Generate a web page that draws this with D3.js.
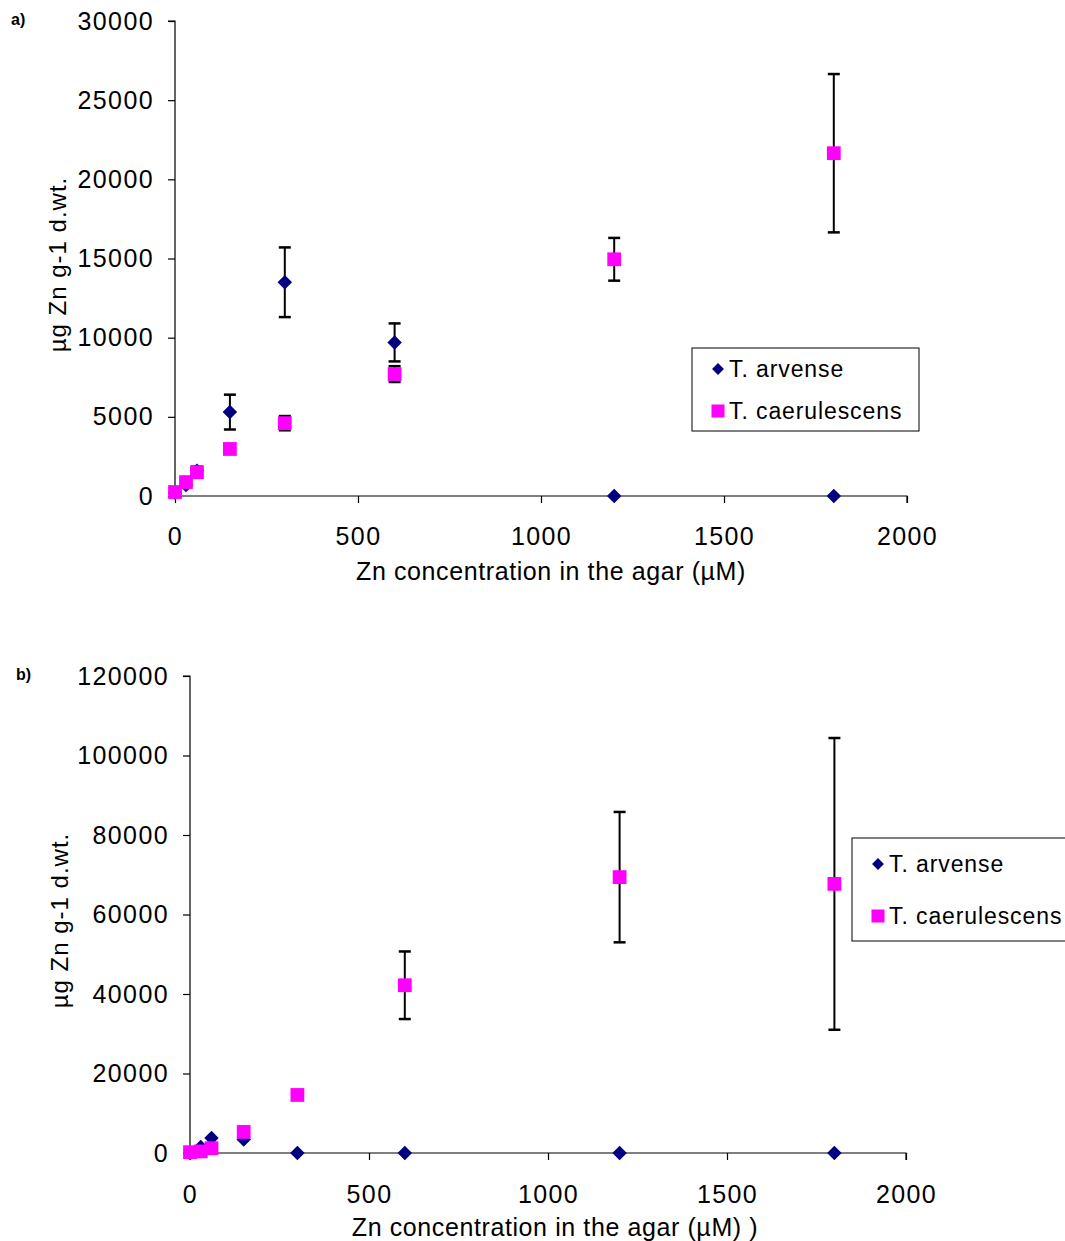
<!DOCTYPE html>
<html>
<head>
<script src="https://cdn.jsdelivr.net/npm/d3@7"></script>
<style>
  body { margin: 0; background: #fff; }
  text { font-family: "Liberation Sans", Arial, sans-serif; fill: #000; }
</style>
</head>
<body>
<svg id="chart" width="1065" height="1241"></svg>
<script>
// Zn concentration in the agar (uM)
var concentrations = [0, 30, 60, 150, 300, 600, 1200, 1800];
var xTicks = [0, 500, 1000, 1500, 2000];

// panel a
var aArvense = [200, 700, 1600, 5300, 13500, 9700, 0, 0];
var aArvenseErr = [0, 0, 250, 1100, 2200, 1200, 0, 0];
var aCaerul = [250, 880, 1500, 2970, 4600, 7700, 14950, 21650];
var aCaerulErr = [0, 0, 0, 0, 450, 500, 1350, 5000];
var aYTicks = [0, 5000, 10000, 15000, 20000, 25000, 30000];

// panel b
var bArvense = [0, 1500, 3800, 3400, 0, 0, 0, 0];
var bArvenseErr = [0, 0, 0, 0, 0, 0, 0, 0];
var bCaerul = [200, 400, 1200, 5300, 14600, 42200, 69400, 67700];
var bCaerulErr = [0, 0, 0, 0, 700, 8500, 16400, 36700];
var bYTicks = [0, 20000, 40000, 60000, 80000, 100000, 120000];

var svg = d3.select("#chart");

function drawPanel(p) {
    var g = svg.append("g");
    var x = d3.scaleLinear().domain([0, 2000]).range([p.left, p.right]);
    var y = d3.scaleLinear().domain([0, p.ymax]).range([p.bottom, p.top]);

    // y axis
    var yAxis = d3.axisLeft(y).tickValues(p.yTicks).tickSize(7).tickPadding(14).tickFormat(d3.format("d"));
    var ya = g.append("g").attr("transform", "translate(" + p.left + ",0)").call(yAxis);
    // x axis
    var xAxis = d3.axisBottom(x).tickValues(xTicks).tickSize(7).tickPadding(p.xPad).tickFormat(d3.format("d"));
    var xa = g.append("g").attr("transform", "translate(0," + p.bottom + ")").call(xAxis);
    [ya, xa].forEach(function (a) {
        a.selectAll("path,line").attr("stroke", "#000").attr("stroke-width", 1.2);
        a.selectAll("text").style("font-size", "25px").style("letter-spacing", "1.4px").attr("fill", "#000");
        a.select(".domain").attr("d", a === ya
            ? "M-7," + p.top + "H0V" + p.bottom
            : "M" + p.left + ",0H" + p.right + "V7");
    });

    // error bars + markers
    function series(vals, errs, diamond, color) {
        concentrations.forEach(function (c, i) {
            if (errs[i] > 0) {
                var cx = x(c), y1 = y(vals[i] + errs[i]), y2 = y(vals[i] - errs[i]);
                g.append("line").attr("x1", cx).attr("x2", cx).attr("y1", y1).attr("y2", y2)
                    .attr("stroke", "#000").attr("stroke-width", 2);
                [y1, y2].forEach(function (yy) {
                    g.append("line").attr("x1", cx - 6).attr("x2", cx + 6).attr("y1", yy).attr("y2", yy)
                        .attr("stroke", "#000").attr("stroke-width", 2.5);
                });
            }
        });
        g.selectAll(null).data(vals).enter().append("path")
            .attr("d", d3.symbol().type(d3.symbolSquare).size(diamond ? 105 : 190))
            .attr("transform", function (d, i) {
                return "translate(" + x(concentrations[i]) + "," + y(d) + ")" + (diamond ? " rotate(45)" : "");
            })
            .attr("fill", color);
    }
    series(p.arv, p.arvErr, true, "#000080");
    series(p.cae, p.caeErr, false, "#ff00ff");

    // axis titles
    g.append("text").attr("x", (p.left + p.right) / 2 + p.xtOff).attr("y", p.xtitleY)
        .attr("text-anchor", "middle").style("font-size", "25px").style("letter-spacing", "0.6px").text(p.xtitle);
    g.append("text").attr("transform", "translate(" + p.ytitleX + "," + ((p.top + p.bottom) / 2 + 6) + ") rotate(-90)")
        .attr("text-anchor", "middle").style("font-size", "24px").style("letter-spacing", "1px").text("µg Zn g-1 d.wt.");

    // panel label
    g.append("text").attr("x", p.labX).attr("y", p.labY).style("font-size", "16px")
        .style("font-weight", "bold").text(p.label);

    // legend
    var L = p.legend;
    g.append("rect").attr("x", L.x).attr("y", L.y).attr("width", L.w).attr("height", L.h)
        .attr("fill", "#fff").attr("stroke", "#000").attr("stroke-width", 1);
    var items = [["T. arvense", "#000080", true], ["T. caerulescens", "#ff00ff", false]];
    items.forEach(function (it, i) {
        var cy = L.y + L.row0 + i * L.step;
        g.append("path")
            .attr("d", d3.symbol().type(d3.symbolSquare).size(it[2] ? 70 : 170))
            .attr("fill", it[1])
            .attr("transform", "translate(" + (L.x + 26) + "," + cy + ")" + (it[2] ? " rotate(45)" : ""));
        g.append("text").attr("x", L.x + 37).attr("y", cy + 8).style("font-size", "23px")
            .style("letter-spacing", "0.9px").text(it[0]);
    });
}

drawPanel({
    left: 175, right: 907, top: 21, bottom: 496, ymax: 30000, yTicks: aYTicks, xPad: 24,
    arv: aArvense, arvErr: aArvenseErr, cae: aCaerul, caeErr: aCaerulErr,
    xtitle: "Zn concentration in the agar (µM)", xtitleY: 580, xtOff: 10, ytitleX: 66,
    label: "a)", labX: 11, labY: 25,
    legend: { x: 692, y: 348, w: 227, h: 83, row0: 21, step: 42 }
});

drawPanel({
    left: 190, right: 906, top: 676, bottom: 1153, ymax: 120000, yTicks: bYTicks, xPad: 25,
    arv: bArvense, arvErr: bArvenseErr, cae: bCaerul, caeErr: bCaerulErr,
    xtitle: "Zn concentration in the agar (µM) )", xtitleY: 1236, xtOff: 7, ytitleX: 68,
    label: "b)", labX: 16, labY: 680,
    legend: { x: 852, y: 838, w: 225, h: 103, row0: 26, step: 52 }
});
</script>
</body>
</html>
